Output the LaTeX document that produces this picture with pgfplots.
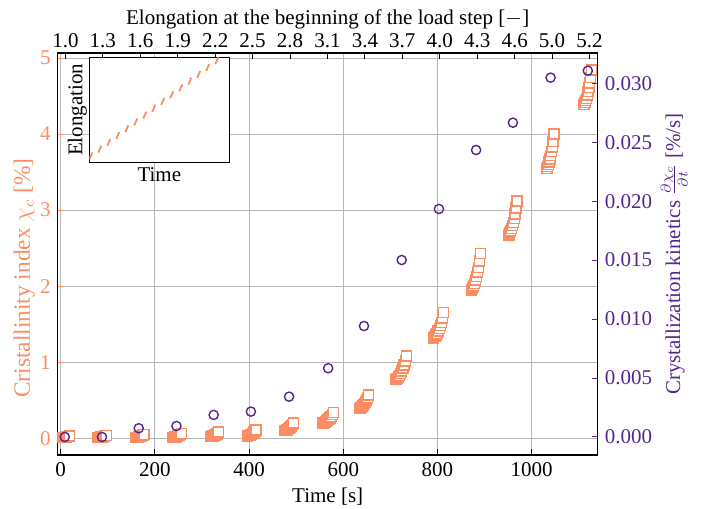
\documentclass[border=0pt]{standalone}
\usepackage{fontspec}
\setmainfont{Liberation Serif}
\usepackage{pgfplots}
\pgfplotsset{compat=1.18}
\definecolor{corange}{RGB}{252,141,98}
\definecolor{cpurple}{RGB}{84,39,143}
\newcommand{\fs}{\fontsize{10.5}{12.6}\selectfont}
\pgfplotstableread{
t v
5 0.010
6.5 0.011
8 0.012
9.5 0.014
11 0.015
12.5 0.017
14 0.020
15.5 0.022
17 0.026
18.5 0.030
79.8 0.010
81.8 0.012
83.8 0.013
85.8 0.015
87.8 0.018
89.8 0.021
91.8 0.025
93.8 0.029
95.8 0.034
97.8 0.040
159.1 0.010
161.1 0.012
163.1 0.014
165.1 0.017
167.1 0.021
169.1 0.025
171.1 0.030
173.1 0.035
175.1 0.042
177.1 0.050
238.4 0.010
240.4 0.013
242.4 0.016
244.4 0.019
246.4 0.024
248.4 0.029
250.4 0.035
252.4 0.041
254.4 0.050
256.4 0.060
317.7 0.020
319.7 0.023
321.7 0.027
323.7 0.031
325.7 0.036
327.7 0.042
329.7 0.049
331.7 0.057
333.7 0.067
335.7 0.080
397 0.030
399 0.034
401 0.039
403 0.044
405 0.052
407 0.060
409 0.069
411 0.080
413 0.093
415 0.110
476.3 0.100
478.3 0.105
480.3 0.111
482.3 0.118
484.3 0.127
486.3 0.137
488.3 0.149
490.3 0.162
492.3 0.179
494.3 0.200
557 0.200
559.4 0.207
561.9 0.215
564.3 0.225
566.8 0.238
569.2 0.252
571.7 0.269
574.1 0.287
576.6 0.311
579 0.340
635 0.390
637 0.399
639 0.410
641 0.422
643 0.439
645 0.457
647 0.478
649 0.502
651 0.532
653 0.570
712 0.770
714.4 0.786
716.9 0.804
719.3 0.826
721.8 0.854
724.2 0.885
726.7 0.922
729.1 0.962
731.6 1.015
734 1.080
792 1.320
794.3 1.337
796.7 1.356
799 1.379
801.3 1.409
803.7 1.442
806 1.482
808.3 1.525
810.7 1.581
813 1.650
872 1.950
874.1 1.974
876.2 2.003
878.3 2.036
880.4 2.080
882.6 2.128
884.7 2.185
886.8 2.248
888.9 2.329
891 2.430
951.5 2.675
953.4 2.697
955.3 2.724
957.2 2.755
959.1 2.795
960.9 2.840
962.8 2.893
964.7 2.951
966.6 3.027
968.5 3.120
1032 3.550
1033.7 3.573
1035.3 3.600
1037 3.631
1038.7 3.672
1040.3 3.717
1042 3.771
1043.7 3.829
1045.3 3.906
1047 4.000
1111 4.390
1112.7 4.413
1114.4 4.440
1116.2 4.471
1117.9 4.512
1119.6 4.557
1121.3 4.611
1123.1 4.669
1124.8 4.746
1126.5 4.840
}\cryst
\pgfplotstableread{
t k
9 0.00000
88 0.00000
166 0.00074
246 0.00093
325 0.00187
404 0.00215
485 0.00342
568 0.00583
644 0.00941
724 0.01501
803 0.01934
882 0.02434
960 0.02666
1040 0.03048
1119 0.03107
}\kin
\pgfplotstableread{
x y
0 0
0.33 1
nan nan
1 1
1.33 2
nan nan
2 2
2.33 3
nan nan
3 3
3.33 4
nan nan
4 4
4.33 5
nan nan
5 5
5.33 6
nan nan
6 6
6.33 7
nan nan
7 7
7.33 8
nan nan
8 8
8.33 9
nan nan
9 9
9.33 10
nan nan
10 10
10.33 11
nan nan
11 11
11.33 12
nan nan
12 12
12.33 13
nan nan
13 13
13.33 14
nan nan
14 14
14.33 15
}\ramps
\begin{document}
\begin{tikzpicture}[font=\fs]
\useasboundingbox (-28.85pt,-26.5pt) rectangle (329.15pt,227.5pt);
\begin{axis}[
  scale only axis, width=270pt, height=201pt,
  xmin=-6, xmax=1140, ymin=-0.22, ymax=5.066,
  xtick={0,200,...,1000}, ytick={0,1,2,3,4,5},
  xtick pos=left, ytick pos=left,
  grid=major, major grid style={black!28, line width=0.5pt},
  tick align=inside, major tick length=2.8pt,
  axis line style={line width=0.6pt},
  x tick style={black, line width=0.5pt},
  y tick style={corange, line width=0.5pt},
  yticklabel style={corange},
  /pgf/number format/assume math mode=true,
  /pgf/number format/1000 sep={},
  tick label style={font=\fs},
  label style={font=\fs},
  xlabel={Time [s]},
  xlabel style={yshift=1pt},
  ylabel={Cristallinity index $\chi_c$ [\%]},
  ylabel style={corange, font=\fontsize{11.7}{14}\selectfont,
    at={(axis description cs:-0.0513,0.4403)}, anchor=base},
]
\addplot[only marks, mark=square*, mark size=2.5pt,
  mark options={draw=corange, fill=white, line width=0.7pt}] table[x=t, y=v] {\cryst};
\end{axis}
\begin{axis}[
  scale only axis, width=270pt, height=201pt,
  xmin=-6, xmax=1140, ymin=-0.00153, ymax=0.03257,
  axis x line*=top, axis y line*=right,
  axis line style={line width=0.6pt},
  xtick={10.4,89.8,169.3,248.7,328.2,407.6,487.0,566.5,645.9,725.4,804.8,884.2,963.7,1043.1,1122.6},
  xticklabels={1.0,1.3,1.6,1.9,2.2,2.5,2.8,3.1,3.4,3.7,4.0,4.3,4.6,5.0,5.2},
  ytick={0,0.005,0.010,0.015,0.020,0.025,0.030},
  scaled y ticks=false,
  tick align=inside, major tick length=2.8pt,
  x tick style={black, line width=0.5pt},
  y tick style={cpurple, line width=0.5pt},
  /pgf/number format/assume math mode=true,
  y tick label style={/pgf/number format/fixed, /pgf/number format/fixed zerofill, /pgf/number format/precision=3},
  yticklabel style={cpurple},
  xticklabel style={yshift=-1pt},
  tick label style={font=\fs},
  label style={font=\fs},
  xlabel={Elongation at the beginning of the load step [$-$]},
  xlabel style={at={(axis description cs:0.5,1)}, anchor=base, yshift=14pt},
  ylabel={Crystallization kinetics $\frac{\partial\chi_c}{\partial t}$ [\%/s]},
  ylabel style={cpurple, at={(axis description cs:1.1524,0.5)}, anchor=base},
]
\addplot[only marks, mark=o, mark size=2.3pt, cpurple,
  mark options={line width=0.7pt}] table[x=t, y=k] {\kin};
\end{axis}
\begin{axis}[
  at={(15.8pt,146.35pt)}, anchor=south west,
  scale only axis, width=70pt, height=52.5pt,
  xmin=0, xmax=15.56, ymin=-0.44, ymax=15,
  xtick=\empty, ytick=\empty,
  axis background/.style={fill=white},
  axis line style={line width=0.6pt},
  unbounded coords=jump,
  label style={font=\fs},
  xlabel={Time}, ylabel={Elongation},
  xlabel style={at={(axis description cs:0.5,-0.121)}, anchor=center},
  ylabel style={at={(axis description cs:-0.085,0.5)}, anchor=center},
]
\addplot[corange, line width=0.9pt, no marks] table[x=x, y=y] {\ramps};
\end{axis}
\end{tikzpicture}
\end{document}
